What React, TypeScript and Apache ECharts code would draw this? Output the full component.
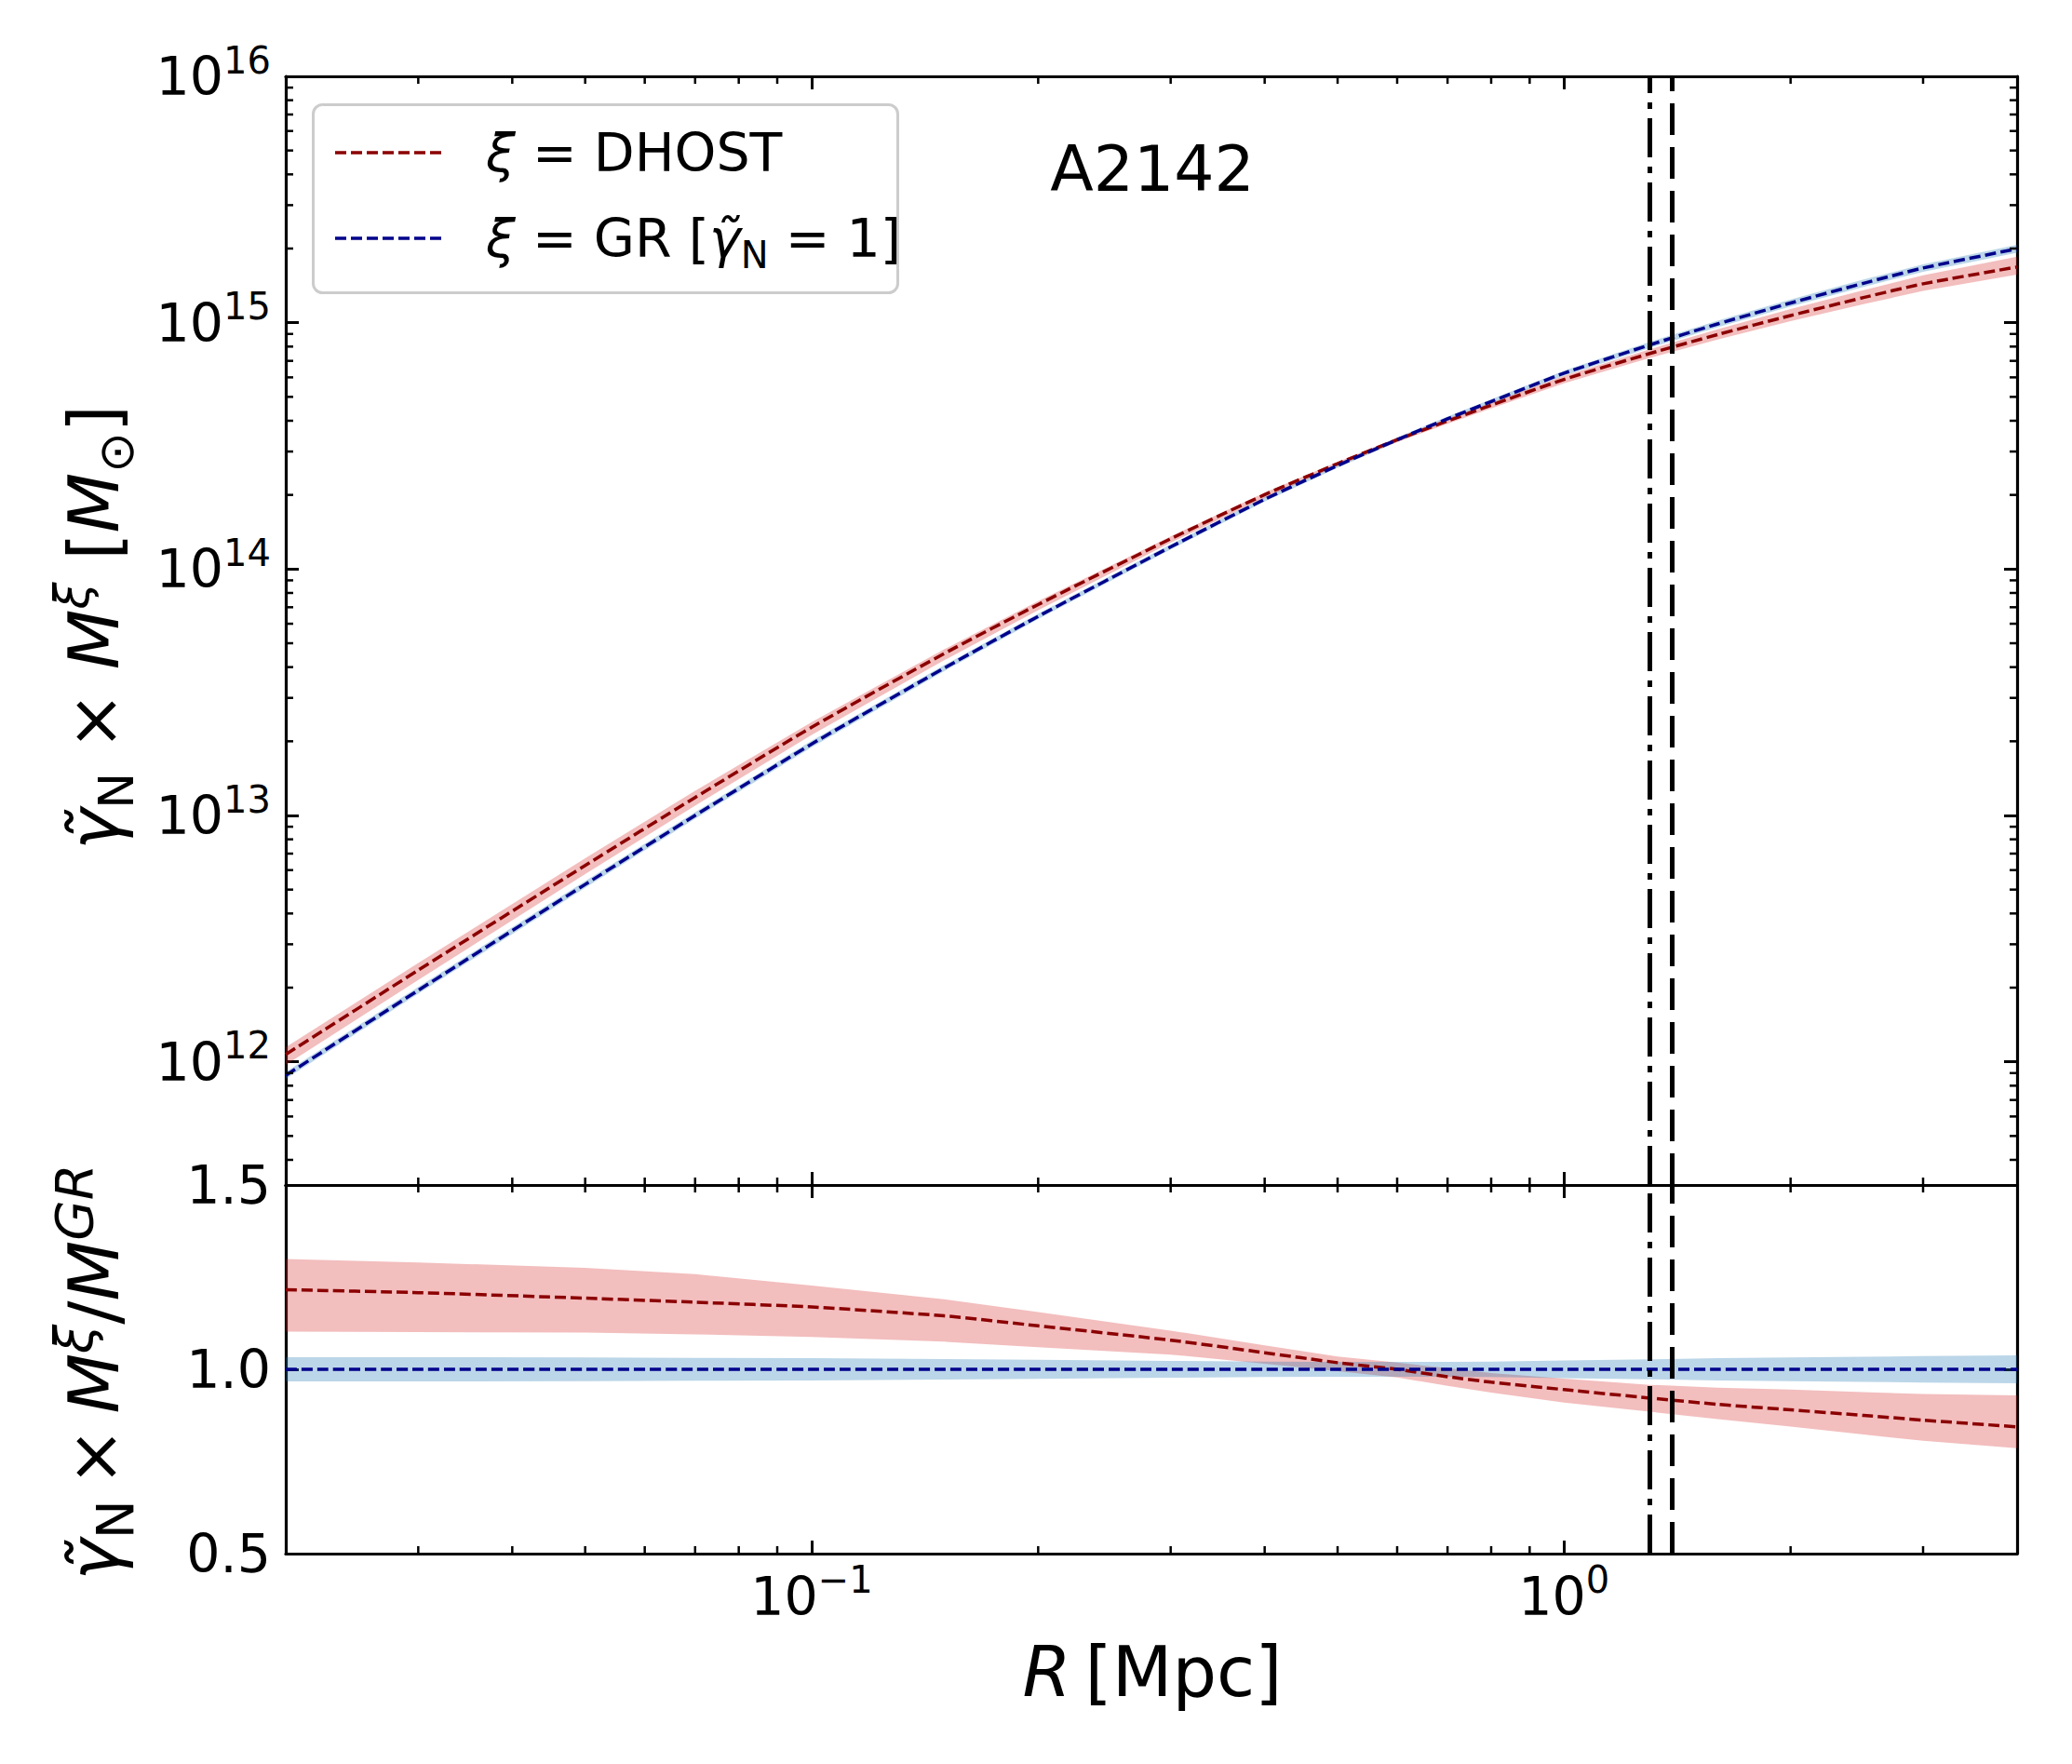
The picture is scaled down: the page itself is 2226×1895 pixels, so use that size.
import React, { useEffect, useRef } from "react";
import * as echarts from "echarts";

// ---------------- DATA ----------------
// Projected radius R [Mpc]
const radius = [0.02, 0.03, 0.05, 0.07, 0.1, 0.15, 0.2, 0.3, 0.4, 0.5, 0.6, 0.7, 0.8, 1.0, 1.3, 1.6, 2.0, 2.5, 3.0, 4.0];

// Top panel: log10 of gamma_N x M [M_sun]
const grLogMass = [11.945, 12.29, 12.72, 13.0, 13.29, 13.598, 13.808, 14.09, 14.283, 14.42, 14.525, 14.61, 14.68, 14.795, 14.91, 14.995, 15.08, 15.16, 15.222, 15.3];
const grLogMassUp = [11.959, 12.304, 12.734, 13.013, 13.303, 13.61, 13.819, 14.1, 14.292, 14.429, 14.534, 14.619, 14.689, 14.805, 14.922, 15.008, 15.094, 15.175, 15.237, 15.316];
const grLogMassLo = [11.931, 12.276, 12.706, 12.987, 13.277, 13.586, 13.797, 14.08, 14.274, 14.411, 14.516, 14.601, 14.671, 14.785, 14.898, 14.982, 15.066, 15.145, 15.207, 15.284];

const dhostLogMass = [12.03, 12.372, 12.797, 13.073, 13.358, 13.657, 13.856, 14.123, 14.302, 14.428, 14.525, 14.601, 14.665, 14.77, 14.875, 14.952, 15.029, 15.102, 15.158, 15.226];
const dhostLogMassUp = [12.059, 12.401, 12.826, 13.1, 13.379, 13.674, 13.87, 14.133, 14.31, 14.435, 14.533, 14.611, 14.676, 14.784, 14.892, 14.973, 15.055, 15.132, 15.192, 15.268];
const dhostLogMassLo = [11.987, 12.332, 12.762, 13.04, 13.327, 13.63, 13.833, 14.107, 14.289, 14.418, 14.515, 14.59, 14.652, 14.754, 14.857, 14.932, 15.006, 15.075, 15.129, 15.195];

// Bottom panel: ratio gamma_N x M^xi / M^GR
const dhostRatio = [1.216, 1.208, 1.193, 1.182, 1.169, 1.145, 1.118, 1.079, 1.045, 1.018, 1.0, 0.98, 0.965, 0.945, 0.922, 0.905, 0.89, 0.875, 0.862, 0.844];
const dhostRatioUp = [1.299, 1.29, 1.275, 1.258, 1.227, 1.19, 1.155, 1.105, 1.065, 1.035, 1.018, 1.003, 0.99, 0.975, 0.958, 0.95, 0.945, 0.938, 0.933, 0.929];
const dhostRatioLo = [1.102, 1.101, 1.1, 1.095, 1.088, 1.075, 1.06, 1.04, 1.015, 0.995, 0.978, 0.955, 0.937, 0.91, 0.885, 0.865, 0.845, 0.823, 0.806, 0.786];
const grRatio = [1, 1, 1, 1, 1, 1, 1, 1, 1, 1, 1, 1, 1, 1, 1, 1, 1, 1, 1, 1];
const grRatioUp = [1.033, 1.033, 1.032, 1.031, 1.03, 1.028, 1.026, 1.023, 1.021, 1.02, 1.02, 1.02, 1.021, 1.024, 1.027, 1.03, 1.032, 1.034, 1.036, 1.038];
const grRatioLo = [0.967, 0.967, 0.968, 0.969, 0.97, 0.972, 0.974, 0.977, 0.979, 0.98, 0.98, 0.98, 0.979, 0.976, 0.973, 0.97, 0.968, 0.966, 0.964, 0.962];

// Vertical reference radii [Mpc]: dash-dot, dashed
const vLineDashDot = 1.3;
const vLineDashed = 1.39;

// Axis ranges and tick helpers
const xRange = [0.02, 4];
const yTopRange = [Math.pow(10, 11.5), 1e16];
const yBottomRange = [0.5, 1.5];
const minorMantissas = [2, 3, 4, 5, 6, 7, 8, 9];
const xDecades = [0.01, 0.1, 1];
const yDecades = [1e11, 1e12, 1e13, 1e14, 1e15];

const legendLabels = ["DHOST", "GR"];
const titleText = "A2142";

// ---------------- STYLE ----------------
const FONT = "DejaVu Sans";
const RED = "#8b0000";
const BLUE = "#00008b";
const RED_BAND = "rgba(214,39,40,0.3)";
const BLUE_BAND = "rgba(31,119,180,0.3)";
const GRID_LEFT = 307;
const GRID_RIGHT = 2167;
const TOP_Y0 = 82;
const MID_Y = 1273;
const BOT_Y1 = 1669;

const pow10 = (a: number[]) => a.map((v) => Math.pow(10, v));
const pairs = (xs: number[], ys: number[]) => xs.map((x, i) => [x, ys[i]]);

const inRange = (v: number, r: number[]) => v > r[0] * 1.0001 && v < r[1] * 0.9999;
const xMinor: number[] = [];
xDecades.forEach((d) => minorMantissas.forEach((m) => { if (inRange(m * d, xRange)) xMinor.push(m * d); }));
const yMinor: number[] = [];
yDecades.forEach((d) => minorMantissas.forEach((m) => { if (inRange(m * d, yTopRange)) yMinor.push(m * d); }));

const tickRich = {
  b: { fontSize: 57, fontFamily: FONT, color: "#000", lineHeight: 75, verticalAlign: "middle" },
  s: { fontSize: 40, fontFamily: FONT, color: "#000", lineHeight: 40, verticalAlign: "top" },
};

const powLabel = (v: number) => {
  const e = Math.log10(v);
  const r = Math.round(e);
  if (Math.abs(e - r) > 1e-6) return "";
  const es = r < 0 ? "\u2212" + Math.abs(r) : String(r);
  return `{b|10}{s|${es}}`;
};

function bandSeries(xi: number, yi: number, xs: number[], up: number[], lo: number[], color: string, z: number) {
  return {
    type: "custom",
    xAxisIndex: xi,
    yAxisIndex: yi,
    coordinateSystem: "cartesian2d",
    silent: true,
    z,
    data: [[xs[0], up[0]]],
    renderItem: (_params: any, api: any) => {
      const pts: number[][] = [];
      for (let i = 0; i < xs.length; i++) pts.push(api.coord([xs[i], up[i]]));
      for (let i = xs.length - 1; i >= 0; i--) pts.push(api.coord([xs[i], lo[i]]));
      return { type: "polygon", shape: { points: pts }, style: { fill: color, stroke: null } };
    },
  };
}

function minorTickSeries(xi: number, yi: number, xTicks: number[], yTicks: number[], xRef: number, yRef: number) {
  return {
    type: "custom",
    xAxisIndex: xi,
    yAxisIndex: yi,
    coordinateSystem: "cartesian2d",
    silent: true,
    clip: false,
    z: 20,
    data: [[xRef, yRef]],
    renderItem: (params: any, api: any) => {
      const cs = params.coordSys;
      const L = 8;
      const st = { stroke: "#000", lineWidth: 2.5 };
      const children: any[] = [];
      xTicks.forEach((v) => {
        const x = api.coord([v, yRef])[0];
        children.push({ type: "line", shape: { x1: x, y1: cs.y + cs.height, x2: x, y2: cs.y + cs.height - L }, style: st });
        children.push({ type: "line", shape: { x1: x, y1: cs.y, x2: x, y2: cs.y + L }, style: st });
      });
      yTicks.forEach((v) => {
        const y = api.coord([xRef, v])[1];
        children.push({ type: "line", shape: { x1: cs.x, y1: y, x2: cs.x + L, y2: y }, style: st });
        children.push({ type: "line", shape: { x1: cs.x + cs.width, y1: y, x2: cs.x + cs.width - L, y2: y }, style: st });
      });
      return { type: "group", children };
    },
  };
}

const axisCommon = {
  axisLine: { show: true, onZero: false, lineStyle: { color: "#000", width: 3.2 } },
  axisTick: { show: true, inside: true, length: 14, lineStyle: { color: "#000", width: 3 } },
  splitLine: { show: false },
};

function xAxisDef(gridIndex: number, position: string, showLabel: boolean) {
  return {
    type: "log",
    logBase: 10,
    gridIndex,
    position,
    min: xRange[0],
    max: xRange[1],
    splitNumber: 2,
    ...axisCommon,
    axisLabel: {
      show: showLabel,
      margin: 8,
      formatter: powLabel,
      rich: tickRich,
    },
  };
}

const vlineMark = {
  symbol: "none",
  silent: true,
  label: { show: false },
  emphasis: { disabled: true },
  data: [
    { xAxis: vLineDashDot, lineStyle: { color: "#000", width: 5, type: [42, 10, 7, 10] } },
    { xAxis: vLineDashed, lineStyle: { color: "#000", width: 5, type: [34, 13] } },
  ],
};

function buildOption() {
  const lineBase = (name: string, xi: number, yi: number, data: number[][], color: string, z: number) => ({
    type: "line",
    name,
    xAxisIndex: xi,
    yAxisIndex: yi,
    data,
    symbol: "none",
    smooth: 0.2,
    silent: true,
    z,
    lineStyle: { color, width: 3.5, type: [12, 5] },
  });

  const richLabel = (base: number, sup: number, lh: number) => ({
    i: { fontFamily: FONT, fontSize: base, fontStyle: "italic", fill: "#000", lineHeight: lh },
    r: { fontFamily: FONT, fontSize: base, fill: "#000", lineHeight: lh },
    sub: { fontFamily: FONT, fontSize: sup, fill: "#000", lineHeight: sup, verticalAlign: "bottom" },
    sup: { fontFamily: FONT, fontSize: sup, fontStyle: "italic", fill: "#000", lineHeight: sup, verticalAlign: "top" },
  });

  return {
    animation: false,
    backgroundColor: "#fff",
    textStyle: { fontFamily: FONT },
    title: {
      text: titleText,
      left: 1233,
      top: 136,
      textAlign: "center",
      textStyle: { fontFamily: FONT, fontSize: 68, fontWeight: "normal", color: "#000", lineHeight: 80 },
    },
    grid: [
      { left: GRID_LEFT, top: TOP_Y0, width: GRID_RIGHT - GRID_LEFT, height: MID_Y - TOP_Y0 },
      { left: GRID_LEFT, top: MID_Y, width: GRID_RIGHT - GRID_LEFT, height: BOT_Y1 - MID_Y },
    ],
    xAxis: [
      xAxisDef(0, "bottom", false),
      xAxisDef(0, "top", false),
      xAxisDef(1, "bottom", true),
      xAxisDef(1, "top", false),
    ],
    yAxis: [
      {
        type: "log", logBase: 10, gridIndex: 0, position: "left",
        min: yTopRange[0], max: yTopRange[1], splitNumber: 5, ...axisCommon,
        axisLabel: { show: true, margin: 16, formatter: powLabel, rich: tickRich },
      },
      {
        type: "log", logBase: 10, gridIndex: 0, position: "right",
        min: yTopRange[0], max: yTopRange[1], splitNumber: 5, ...axisCommon,
        axisLabel: { show: false },
      },
      {
        type: "value", gridIndex: 1, position: "left",
        min: yBottomRange[0], max: yBottomRange[1], interval: 0.5, ...axisCommon,
        axisLabel: {
          show: true, margin: 16, fontSize: 57, fontFamily: FONT, color: "#000",
          formatter: (v: number) => v.toFixed(1),
        },
      },
      {
        type: "value", gridIndex: 1, position: "right",
        min: yBottomRange[0], max: yBottomRange[1], interval: 0.5, ...axisCommon,
        axisLabel: { show: false },
      },
    ],
    series: [
      // top panel bands
      bandSeries(0, 0, radius, pow10(grLogMassUp), pow10(grLogMassLo), BLUE_BAND, 1),
      bandSeries(0, 0, radius, pow10(dhostLogMassUp), pow10(dhostLogMassLo), RED_BAND, 1),
      lineBase(legendLabels[0], 0, 0, pairs(radius, pow10(dhostLogMass)), RED, 3),
      lineBase(legendLabels[1], 0, 0, pairs(radius, pow10(grLogMass)), BLUE, 3),
      // bottom panel bands
      bandSeries(2, 2, radius, dhostRatioUp, dhostRatioLo, RED_BAND, 1),
      bandSeries(2, 2, radius, grRatioUp, grRatioLo, BLUE_BAND, 1),
      lineBase(legendLabels[0] + " ratio", 2, 2, pairs(radius, dhostRatio), RED, 3),
      lineBase(legendLabels[1] + " ratio", 2, 2, pairs(radius, grRatio), BLUE, 3),
      // vertical reference lines
      { type: "line", xAxisIndex: 0, yAxisIndex: 0, data: [], silent: true, z: 6, markLine: vlineMark },
      { type: "line", xAxisIndex: 2, yAxisIndex: 2, data: [], silent: true, z: 6, markLine: vlineMark },
      // minor ticks
      minorTickSeries(0, 0, xMinor, yMinor, 0.1, 1e13),
      minorTickSeries(2, 2, xMinor, [], 0.1, 1.0),
    ],
    graphic: [
      // legend box
      {
        type: "rect", left: 335, top: 111, z: 50,
        shape: { width: 628, height: 202, r: 10 },
        style: { fill: "rgba(255,255,255,0.8)", stroke: "#cccccc", lineWidth: 3 },
      },
      {
        type: "line", z: 51,
        shape: { x1: 360, y1: 164, x2: 477, y2: 164 },
        style: { stroke: RED, lineWidth: 3.5, lineDash: [12, 5] },
      },
      {
        type: "line", z: 51,
        shape: { x1: 360, y1: 256, x2: 477, y2: 256 },
        style: { stroke: BLUE, lineWidth: 3.5, lineDash: [12, 5] },
      },
      {
        type: "text", x: 522, y: 164, z: 51,
        style: {
          text: "{i|\u03BE}{r| = DHOST}",
          verticalAlign: "middle", align: "left",
          rich: richLabel(57, 40, 75),
        },
      },
      {
        type: "text", x: 522, y: 256, z: 51,
        style: {
          text: "{i|\u03BE}{r| = GR [}{i|\u03B3\u0303}{sub|N}{r| = 1]}",
          verticalAlign: "middle", align: "left",
          rich: richLabel(57, 40, 75),
        },
      },
      // axis titles
      {
        type: "text", x: 1238, y: 1796, z: 51,
        style: {
          text: "{i|R}{r|\u2009[Mpc]}",
          align: "center", verticalAlign: "middle",
          rich: richLabel(75, 52, 95),
        },
      },
      {
        type: "text", x: 101, y: 674, rotation: Math.PI / 2, z: 51,
        style: {
          text: "{i|\u03B3\u0303}{sub|N}{r| \u00D7 }{i|M}{sup|\u03BE}{r| [}{i|M}{sub|\u2299}{r|]}",
          align: "center", verticalAlign: "middle",
          rich: richLabel(75, 52, 100),
        },
      },
      {
        type: "text", x: 101, y: 1474, rotation: Math.PI / 2, z: 51,
        style: {
          text: "{i|\u03B3\u0303}{sub|N}{r|\u2009\u00D7\u2009}{i|M}{sup|\u03BE}{r|/}{i|M}{sup|GR}",
          align: "center", verticalAlign: "middle",
          rich: richLabel(75, 56, 100),
        },
      },
    ],
  };
}

export default function App() {
  const ref = useRef<HTMLDivElement>(null);
  useEffect(() => {
    if (!ref.current) return;
    const chart = echarts.init(ref.current, undefined, { renderer: "svg" });
    chart.setOption(buildOption() as any);
    return () => chart.dispose();
  }, []);
  return (
    <div
      ref={ref}
      style={{ position: "absolute", left: 0, top: 0, width: 2226, height: 1895, background: "#fff" }}
    />
  );
}
